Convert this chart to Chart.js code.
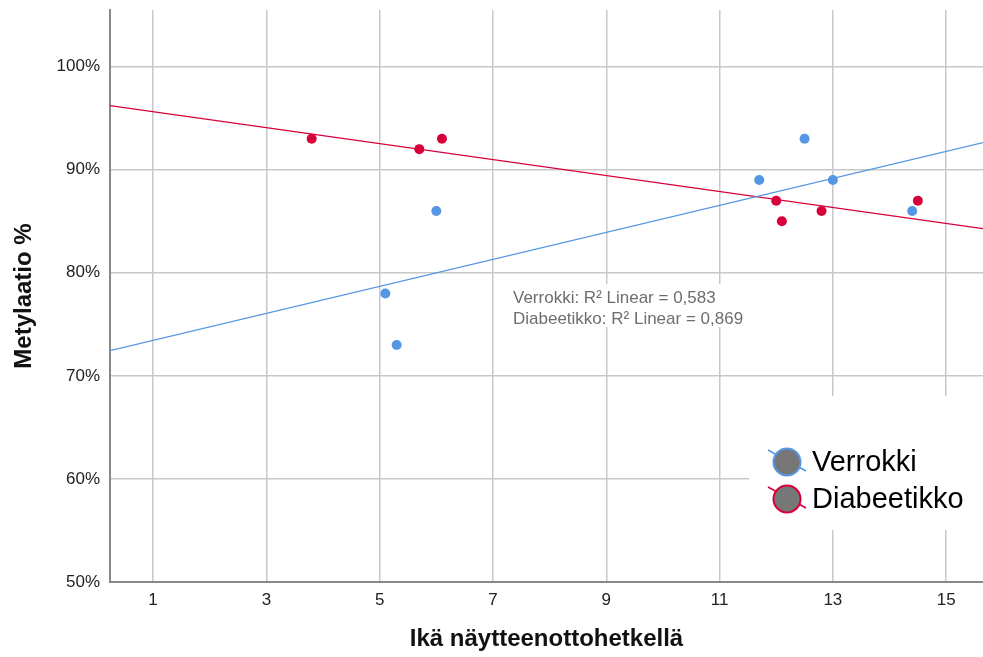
<!DOCTYPE html>
<html>
<head>
<meta charset="utf-8">
<script src="https://cdn.jsdelivr.net/npm/chart.js@4/dist/chart.umd.min.js"></script>
<style>
  html, body { margin: 0; padding: 0; background: #fff; }
  #wrap { width: 983px; height: 657px; position: relative; }
</style>
</head>
<body>
<div id="wrap"><canvas id="c" width="983" height="657"></canvas></div>
<script>
// ---- Data ----
const seriesNames = ['Verrokki', 'Diabeetikko'];
const verrokkiAge = [5.1, 5.3, 6.0, 11.7, 12.5, 13.0, 14.4];
const verrokkiMet = [78, 73, 86, 89, 93, 89, 86];
const diabeetikkoAge = [3.8, 5.7, 6.1, 12.0, 12.1, 12.8, 14.5];
const diabeetikkoMet = [93, 92, 93, 87, 85, 86, 87];
const xTicks = [1, 3, 5, 7, 9, 11, 13, 15];
const yTicks = [50, 60, 70, 80, 90, 100];
const xRange = [0.24, 15.65];
const yRange = [50, 105.5];
const r2Labels = ['Verrokki: R² Linear = 0,583', 'Diabeetikko: R² Linear = 0,869'];

const BLUE = '#5597e4';
const RED = '#d8003a';

function pts(xs, ys) { return xs.map((x, i) => ({ x: x, y: ys[i] })); }
function fit(xs, ys) {
  const n = xs.length;
  const mx = xs.reduce((a, b) => a + b, 0) / n;
  const my = ys.reduce((a, b) => a + b, 0) / n;
  let sxy = 0, sxx = 0;
  for (let i = 0; i < n; i++) { sxy += (xs[i] - mx) * (ys[i] - my); sxx += (xs[i] - mx) ** 2; }
  const b = sxy / sxx, a = my - b * mx;
  return xRange.map(x => ({ x: x, y: a + b * x }));
}

const FONT = "'Liberation Sans', Arial, sans-serif";

const overlayPlugin = {
  id: 'overlay',
  beforeDatasetsDraw(chart) {
    const ctx = chart.ctx;
    ctx.save();
    // R² annotation box
    ctx.fillStyle = '#fff';
    ctx.fillRect(503, 284, 242, 43);
    ctx.fillStyle = '#6e6e6e';
    ctx.font = '17px ' + FONT;
    ctx.textBaseline = 'middle';
    ctx.textAlign = 'left';
    ctx.fillText(r2Labels[0], 513, 298);
    ctx.fillText(r2Labels[1], 513, 319);
    // Legend box
    ctx.fillStyle = '#fff';
    ctx.fillRect(749, 396, chart.chartArea.right - 749, 134);
    const items = [
      { label: chart.data.datasets[0].label, color: BLUE, cy: 462 },
      { label: chart.data.datasets[1].label, color: RED, cy: 499 }
    ];
    items.forEach(it => {
      const cx = 787;
      ctx.strokeStyle = it.color;
      ctx.lineWidth = 1.5;
      ctx.beginPath();
      ctx.moveTo(cx - 19, it.cy - 12);
      ctx.lineTo(cx + 19, it.cy + 9);
      ctx.stroke();
      ctx.beginPath();
      ctx.arc(cx, it.cy, 13.5, 0, Math.PI * 2);
      ctx.fillStyle = '#777777';
      ctx.fill();
      ctx.lineWidth = 2;
      ctx.strokeStyle = it.color;
      ctx.stroke();
      ctx.fillStyle = '#000';
      ctx.font = '29px ' + FONT;
      ctx.textBaseline = 'middle';
      ctx.fillText(it.label, 812, it.cy + 1);
    });
    ctx.restore();
  }
};

new Chart(document.getElementById('c'), {
  type: 'scatter',
  data: {
    datasets: [
      { label: seriesNames[0], data: pts(verrokkiAge, verrokkiMet), backgroundColor: BLUE, borderColor: BLUE,
        pointRadius: 5, pointHoverRadius: 5, borderWidth: 0, order: 0 },
      { label: seriesNames[1], data: pts(diabeetikkoAge, diabeetikkoMet), backgroundColor: RED, borderColor: RED,
        pointRadius: 5, pointHoverRadius: 5, borderWidth: 0, order: 0 },
      { label: 'fit1', type: 'line', data: fit(verrokkiAge, verrokkiMet), borderColor: BLUE, borderWidth: 1.3,
        pointRadius: 0, fill: false, order: 1 },
      { label: 'fit2', type: 'line', data: fit(diabeetikkoAge, diabeetikkoMet), borderColor: RED, borderWidth: 1.3,
        pointRadius: 0, fill: false, order: 1 }
    ]
  },
  options: {
    responsive: false,
    animation: false,
    events: [],
    layout: { autoPadding: false, padding: { top: 10, left: 0, right: 0, bottom: 0 } },
    plugins: { legend: { display: false }, tooltip: { enabled: false } },
    scales: {
      x: {
        type: 'linear', min: xRange[0], max: xRange[1],
        afterBuildTicks: s => { s.ticks = xTicks.map(v => ({ value: v })); },
        afterFit: s => { s.height = 75; s.paddingLeft = 0; s.paddingRight = 0; },
        grid: { color: '#c8c8c8', lineWidth: 1.5, drawTicks: false },
        border: { color: '#888888', width: 2 },
        ticks: { color: '#222', font: { family: FONT, size: 17 }, padding: 8, maxRotation: 0 },
        title: { display: true, text: 'Ikä näytteenottohetkellä', color: '#111',
          font: { family: FONT, size: 24, weight: 'bold' }, padding: { top: 0, bottom: 3 } }
      },
      y: {
        type: 'linear', min: yRange[0], max: yRange[1],
        afterBuildTicks: s => { s.ticks = yTicks.map(v => ({ value: v })); },
        afterFit: s => { s.width = 110; s.paddingTop = 0; s.paddingBottom = 0; },
        grid: { color: '#c8c8c8', lineWidth: 1.5, drawTicks: false },
        border: { color: '#888888', width: 2 },
        ticks: { color: '#222', font: { family: FONT, size: 17 }, padding: 10, callback: v => v + '%' },
        title: { display: true, text: 'Metylaatio %', color: '#111',
          font: { family: FONT, size: 24, weight: 'bold' }, padding: { top: 10, bottom: 0 } }
      }
    }
  },
  plugins: [overlayPlugin]
});
</script>
</body>
</html>
